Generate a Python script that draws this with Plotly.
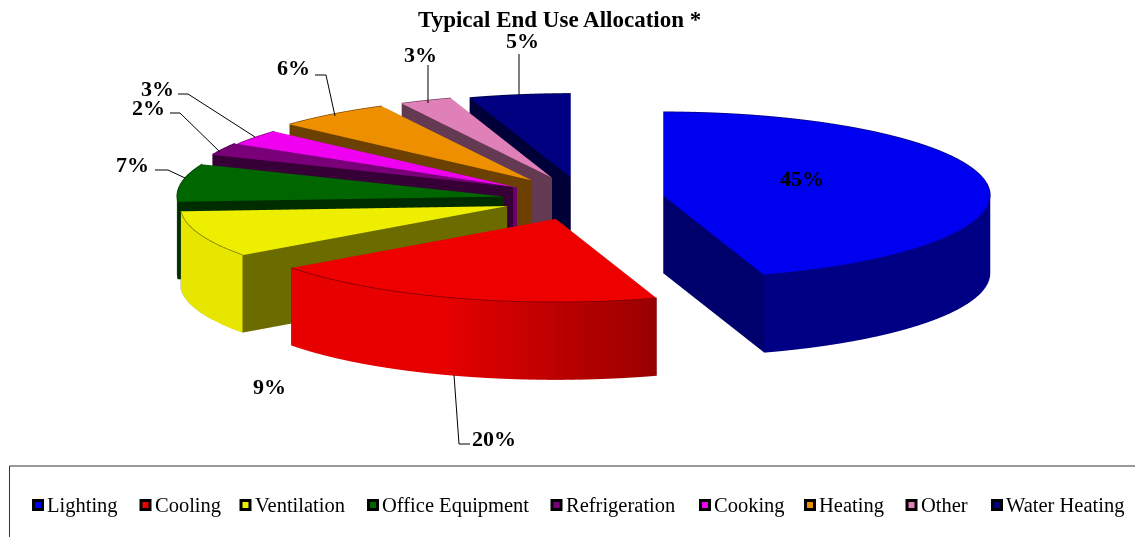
import math
import plotly.graph_objects as go

W, H = 1135, 537
categories = ["Lighting", "Cooling", "Ventilation", "Office Equipment", "Refrigeration",
              "Cooking", "Heating", "Other", "Water Heating"]
# printed (rounded) labels
percent = [45, 20, 9, 7, 2, 3, 6, 3, 5]
# slice sizes; they round to the printed labels
share = [45, 20, 9, 7.3, 2.4, 3, 5.7, 2.6, 5]
colors = ["#0000f0", "#ee0000", "#eeee00", "#006600", "#7a007a",
          "#f000f0", "#ee8f00", "#e080b8", "#000080"]
title_text = "Typical End Use Allocation *"

EXPLODE = 0.25
THICK = 0.245
ELEV = math.radians(14.8)
K = 327.0          # px per radius
CENTRE_PX = (582.5, 198.0)
EYE = 12.0
ASPECT = 327.0 / 89.5
# small per-slice corrections to the explode offset, in screen px
nudge_x = [0, -1.5, 1.5, 2, 4.5, 0, -0.5, 1, 1]
nudge_y = [1, 1, 1, 2, -1.5, 2, -1, -1, 0]


def rgb(hexc, f):
    r, g, b = [int(hexc[i:i + 2], 16) for i in (1, 3, 5)]
    return "rgb(%d,%d,%d)" % (min(255, r * f), min(255, g * f), min(255, b * f))


def side_shade(a):
    # a: clockwise degrees from the back of the pie
    if a < 162:
        return 0.55
    return 0.64 + 0.33 * min(1.0, (a - 162) / 38.0)


def px(x):
    return x / W


def py(y):
    return 1 - y / H


fig = go.Figure()
cum = 0.0
for name, v, col, nx, ny in zip(categories, share, colors, nudge_x, nudge_y):
    a0 = cum / 100 * 360
    a1 = (cum + v) / 100 * 360
    cum += v
    mid = math.radians((a0 + a1) / 2)
    ox = EXPLODE * math.sin(mid) + nx / K
    oy = EXPLODE * math.cos(mid) - ny / (K * math.sin(ELEV))
    n = max(3, int((a1 - a0) / 1.5))
    angs = [a0 + (a1 - a0) * i / n for i in range(n + 1)]
    X, Y, Z, I, J, Kk, FC = [], [], [], [], [], [], []

    def add(x, y, z):
        X.append(x); Y.append(y); Z.append(z)
        return len(X) - 1

    ctop = add(ox, oy, 0)
    cbot = add(ox, oy, -THICK)
    tops, bots = [], []
    for a in angs:
        r = math.radians(a)
        x, y = ox + math.sin(r), oy + math.cos(r)
        tops.append(add(x, y, 0))
        bots.append(add(x, y, -THICK))
    for i in range(n):
        I.append(ctop); J.append(tops[i]); Kk.append(tops[i + 1]); FC.append(col)
        I.append(cbot); J.append(bots[i]); Kk.append(bots[i + 1]); FC.append(rgb(col, 0.4))
        s = rgb(col, side_shade((angs[i] + angs[i + 1]) / 2))
        I.append(tops[i]); J.append(bots[i]); Kk.append(tops[i + 1]); FC.append(s)
        I.append(tops[i + 1]); J.append(bots[i]); Kk.append(bots[i + 1]); FC.append(s)
    cut = rgb(col, 0.45)
    for e in (tops[0], tops[-1]):
        b = e + 1
        I.append(ctop); J.append(e); Kk.append(b); FC.append(cut)
        I.append(ctop); J.append(b); Kk.append(cbot); FC.append(cut)
    fig.add_trace(go.Mesh3d(x=X, y=Y, z=Z, i=I, j=J, k=Kk, facecolor=FC, name=name,
                            flatshading=True, hoverinfo="name",
                            lighting=dict(ambient=1, diffuse=0, specular=0, fresnel=0),
                            showscale=False))
    # darker outline along the top rim
    fig.add_trace(go.Scatter3d(x=[X[t] for t in tops], y=[Y[t] for t in tops], z=[0.001 for t in tops],
                               mode="lines", line=dict(color=rgb(col, 0.5), width=1.5),
                               hoverinfo="skip", showlegend=False))

# the scene is a cube centred on the plot window
xmid = -(CENTRE_PX[0] - W / 2) / K
zmid = -(H / 2 - CENTRE_PX[1]) / (K * math.cos(ELEV))
HALF = 1.5
axis = dict(visible=False, showgrid=False, zeroline=False, showspikes=False)
fig.update_layout(
    width=W, height=H, margin=dict(l=0, r=0, t=0, b=0), paper_bgcolor="white", showlegend=False,
    scene=dict(
        domain=dict(x=[0, 1], y=[0, 1]),
        xaxis=dict(axis, range=[xmid - HALF, xmid + HALF]),
        yaxis=dict(axis, range=[-HALF, HALF]),
        zaxis=dict(axis, range=[zmid - HALF, zmid + HALF]),
        aspectmode="manual",
        aspectratio=dict(x=ASPECT, y=ASPECT, z=ASPECT),
        camera=dict(projection=dict(type="orthographic"),
                    up=dict(x=0, y=0, z=1),
                    center=dict(x=0, y=0, z=0),
                    eye=dict(x=0, y=-EYE * math.cos(ELEV), z=EYE * math.sin(ELEV))),
    ),
)

serif = "Liberation Serif"
ann = [dict(x=px(559), y=py(20), xref="paper", yref="paper", text="<b>%s</b>" % title_text,
            xanchor="center", yanchor="middle",
            showarrow=False, font=dict(family=serif, size=23, color="black"))]

label_pos = [(802, 178), (494, 438), (269, 386), (132, 164), (148, 107), (157, 88), (293, 68), (420, 54), (522, 41)]
for v, (x, y) in zip(percent, label_pos):
    ann.append(dict(x=px(x), y=py(y), xref="paper", yref="paper", text="<b>%d%%</b>" % v,
                    xanchor="center", yanchor="middle",
                    showarrow=False, font=dict(family=serif, size=22, color="black")))

leaders = [
    [(454, 375), (459, 444), (470, 444)],
    [(155, 170), (168, 170), (185, 178)],
    [(170, 113), (180, 113), (220, 152)],
    [(178, 94), (188, 94), (255, 137)],
    [(315, 75), (326, 75), (335, 116)],
    [(428, 65), (428, 103)],
    [(519, 54), (519, 95)],
]
shapes = []
for pts in leaders:
    path = "M " + " L ".join("%.5f %.5f" % (px(x), py(y)) for x, y in pts)
    shapes.append(dict(type="path", xref="paper", yref="paper", path=path,
                       line=dict(color="black", width=1)))

# legend frame: left and top edges, open at the window borders
shapes.append(dict(type="path", xref="paper", yref="paper",
                   path="M %.5f 0 L %.5f %.5f L 1 %.5f" % (px(9.5), px(9.5), py(466), py(466)),
                   line=dict(color="#333333", width=1)))

marker_x = [38, 145.5, 245.5, 373, 556.5, 705, 810, 911.5, 997]
for name, col, mx in zip(categories, colors, marker_x):
    shapes.append(dict(type="rect", xref="paper", yref="paper",
                       x0=px(mx - 6), x1=px(mx + 6), y0=py(511), y1=py(499),
                       fillcolor="black", line=dict(width=0)))
    shapes.append(dict(type="rect", xref="paper", yref="paper",
                       x0=px(mx - 3), x1=px(mx + 3), y0=py(508), y1=py(502),
                       fillcolor=col, line=dict(width=0)))
    ann.append(dict(x=px(mx + 7), y=py(505), xref="paper", yref="paper", text=name,
                    xanchor="left", yanchor="middle",
                    showarrow=False, font=dict(family=serif, size=20.5, color="black")))

fig.update_layout(annotations=ann, shapes=shapes)
fig.write_html("out.html", post_script="document.body.style.margin='0';",
               config=dict(displayModeBar=False))
